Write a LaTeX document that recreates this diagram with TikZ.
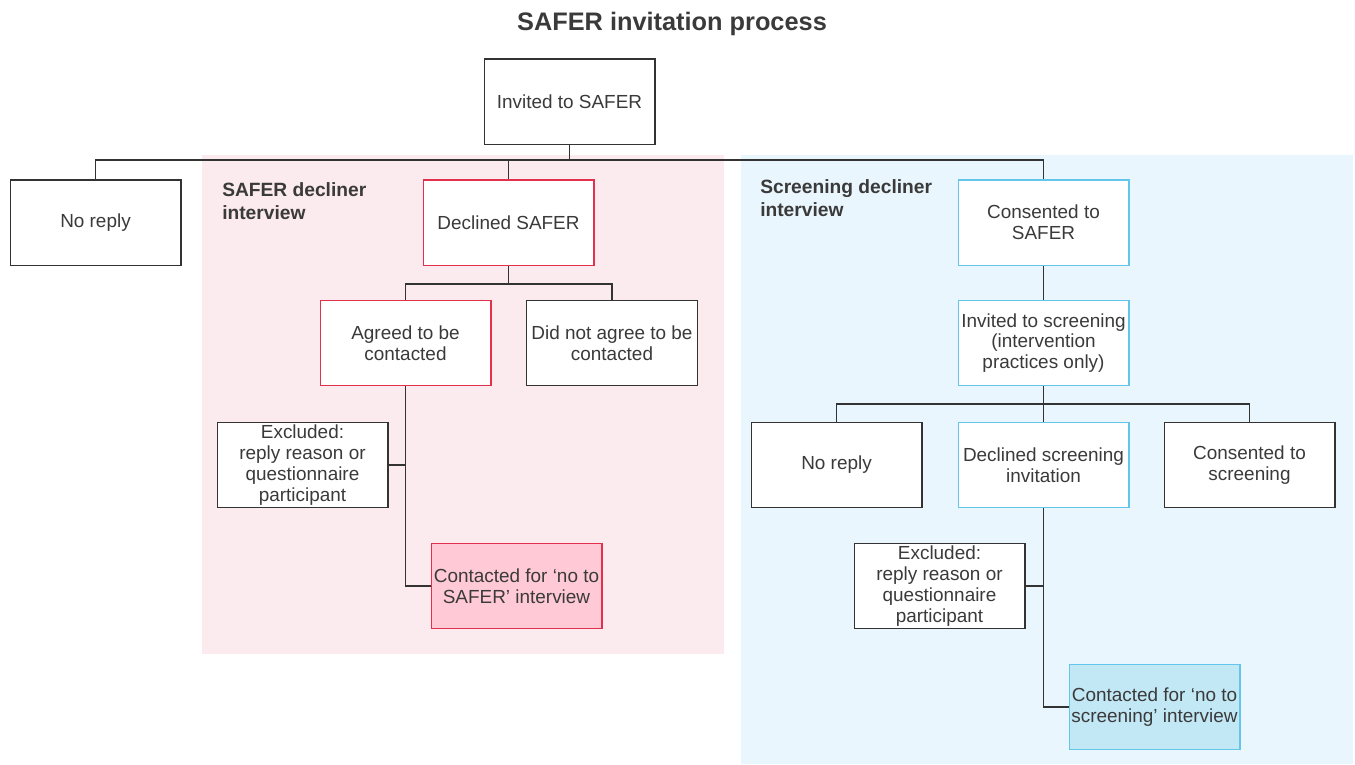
\documentclass[tikz,border=0pt]{standalone}
\usepackage{fontspec}
\setmainfont{Liberation Sans}
\definecolor{txt}{HTML}{3A3A3A}
\definecolor{ln}{HTML}{333333}
\definecolor{pinkbg}{HTML}{FBEAEE}
\definecolor{bluebg}{HTML}{EAF6FD}
\definecolor{redb}{HTML}{E3304D}
\definecolor{blueb}{HTML}{62C6EA}
\definecolor{pinkfill}{HTML}{FFC9D5}
\definecolor{bluefill}{HTML}{C2E8F6}
\tikzset{
  box/.style={draw=ln, line width=1pt, fill=white, minimum width=128pt, minimum height=64pt,
    align=center, text=txt, inner sep=1pt, font=\fontsize{14.2}{15.6}\selectfont},
  redbox/.style={box, draw=redb},
  bluebox/.style={box, draw=blueb},
  conn/.style={draw=ln, line width=1pt},
  seclabel/.style={anchor=north west, align=left, text=txt, inner sep=0pt,
    font=\bfseries\fontsize{14.4}{17.2}\selectfont}
}
\begin{document}
\begin{tikzpicture}[x=0.75pt,y=-0.75pt]
\useasboundingbox (0,0) rectangle (1355,764);
% backgrounds
\fill[pinkbg] (202,155) rectangle (724,654);
\fill[bluebg] (741,155) rectangle (1353,764);
% title
\node[text=txt, font=\bfseries\fontsize{19}{22}\selectfont] (title) at (672,23.5) {SAFER invitation process};
% section labels
\node[seclabel] (lblL) at (222,182) {SAFER decliner\\interview};
\node[seclabel] (lblR) at (760,179) {Screening decliner\\interview};
% nodes
\node[box] (inv) at (569.5,101.5) {Invited to SAFER};
\node[box] (noreplyL) at (95.5,222.5) {No reply};
\node[redbox] (declined) at (508.5,222.5) {Declined SAFER};
\node[bluebox] (consented) at (1043.5,222.5) {Consented to\\SAFER};
\node[redbox] (agreed) at (405.5,343) {Agreed to be\\contacted};
\node[box] (didnot) at (612,343) {Did not agree to be\\contacted};
\node[box] (exclL) at (302.5,465) {Excluded:\\reply reason or\\questionnaire\\participant};
\node[redbox, fill=pinkfill] (contL) at (516.5,586) {Contacted for `no to\\SAFER' interview};
\node[bluebox] (invscr) at (1043.5,343) {Invited to screening\\(intervention\\practices only)};
\node[box] (noreplyR) at (836.5,465) {No reply};
\node[bluebox] (declscr) at (1043.5,465) {Declined screening\\invitation};
\node[box] (consscr) at (1249.5,465) {Consented to\\screening};
\node[box] (exclR) at (939.5,586) {Excluded:\\reply reason or\\questionnaire\\participant};
\node[bluebox, fill=bluefill] (contR) at (1154.5,707) {Contacted for `no to\\screening' interview};
% junction coordinates
\coordinate (j1) at (569.5,160);
\coordinate (j2) at (508.5,284);
\coordinate (j3) at (1043.5,404);
% connectors
\draw[conn] (inv.south) -- (j1);
\draw[conn] (noreplyL.north) |- (j1) -| (consented.north);
\draw[conn] (declined.north) -- (declined.north |- j1);
\draw[conn] (declined.south) -- (j2);
\draw[conn] (agreed.north) |- (j2) -| (didnot.north);
\draw[conn] (agreed.south) |- (contL.west);
\draw[conn] (exclL.east) -- (exclL.east -| agreed.south);
\draw[conn] (consented.south) -- (invscr.north);
\draw[conn] (invscr.south) -- (j3);
\draw[conn] (noreplyR.north) |- (j3) -| (consscr.north);
\draw[conn] (declscr.north) -- (j3);
\draw[conn] (declscr.south) |- (contR.west);
\draw[conn] (exclR.east) -- (exclR.east -| declscr.south);
\end{tikzpicture}
\end{document}
